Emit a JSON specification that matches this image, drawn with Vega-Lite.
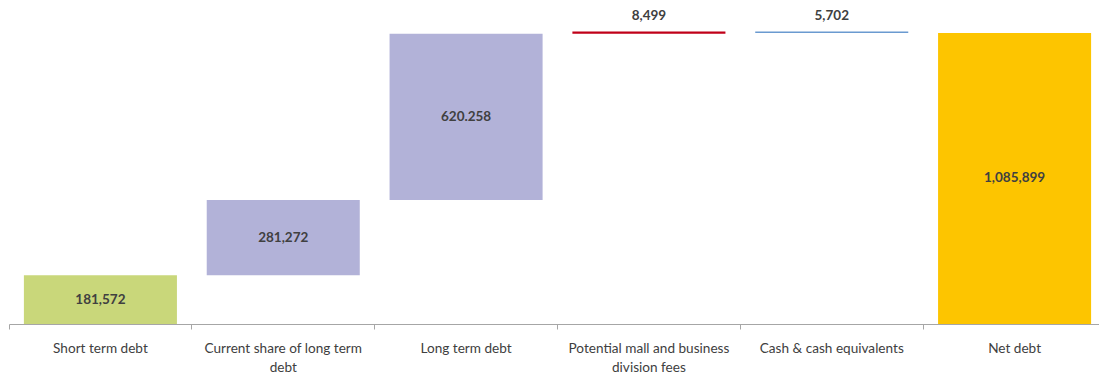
{
  "$schema": "https://vega.github.io/schema/vega-lite/v6.json",
  "width": 1097,
  "height": 324,
  "autosize": "none",
  "padding": {"left": 9, "top": 0, "right": 0, "bottom": 54},
  "background": "white",
  "config": {"view": {"stroke": null}, "font": "Lato"},
  "data": {
    "values": [
      {"category": "Short term debt", "low": 0, "high": 181572, "label": "181,572", "kind": "bar"},
      {"category": "Current share of long term debt", "low": 181572, "high": 462844, "label": "281,272", "kind": "bar"},
      {"category": "Long term debt", "low": 462844, "high": 1083102, "label": "620.258", "kind": "bar"},
      {"category": "Potential mall and business division fees", "low": 1083102, "high": 1091601, "label": "8,499", "kind": "thin"},
      {"category": "Cash & cash equivalents", "low": 1085899, "high": 1091601, "label": "5,702", "kind": "thin"},
      {"category": "Net debt", "low": 0, "high": 1085899, "label": "1,085,899", "kind": "bar"}
    ]
  },
  "transform": [{"calculate": "(datum.low + datum.high) / 2", "as": "mid"}],
  "encoding": {
    "x": {
      "field": "category",
      "type": "nominal",
      "sort": null,
      "scale": {"paddingInner": 0, "paddingOuter": 0},
      "axis": {
        "title": null,
        "labelAngle": 0,
        "bandPosition": 0,
        "domainColor": "#A6A6A6",
        "tickColor": "#A6A6A6",
        "tickSize": 5,
        "labelFont": "Lato",
        "labelFontSize": 13.6,
        "labelColor": "#404040",
        "labelPadding": 12,
        "labelLineHeight": 19.5,
        "labelLimit": 300,
        "labelExpr": "datum.value == 'Current share of long term debt' ? ['Current share of long term', 'debt'] : datum.value == 'Potential mall and business division fees' ? ['Potential mall and business', 'division fees'] : datum.value"
      }
    }
  },
  "layer": [
    {
      "mark": {"type": "bar", "width": {"band": 0.837}},
      "encoding": {
        "y": {"field": "low", "type": "quantitative", "scale": {"domain": [0, 1209000], "nice": false}, "axis": null},
        "y2": {"field": "high"},
        "color": {
          "field": "category",
          "type": "nominal",
          "legend": null,
          "scale": {
            "domain": ["Short term debt", "Current share of long term debt", "Long term debt", "Potential mall and business division fees", "Cash & cash equivalents", "Net debt"],
            "range": ["#C9D77A", "#B2B2D8", "#B2B2D8", "#C00018", "#6A9AD0", "#FDC500"]
          }
        }
      }
    },
    {
      "transform": [{"filter": "datum.kind == 'bar'"}],
      "mark": {"type": "text", "fontWeight": "bold", "fontSize": 13.5, "color": "#404040", "baseline": "middle", "font": "Lato"},
      "encoding": {
        "y": {"field": "mid", "type": "quantitative"},
        "text": {"field": "label"}
      }
    },
    {
      "transform": [{"filter": "datum.kind == 'thin'"}],
      "mark": {"type": "text", "fontWeight": "bold", "fontSize": 13.5, "color": "#404040", "baseline": "middle", "dy": -15, "font": "Lato"},
      "encoding": {
        "y": {"field": "high", "type": "quantitative"},
        "text": {"field": "label"}
      }
    }
  ]
}
